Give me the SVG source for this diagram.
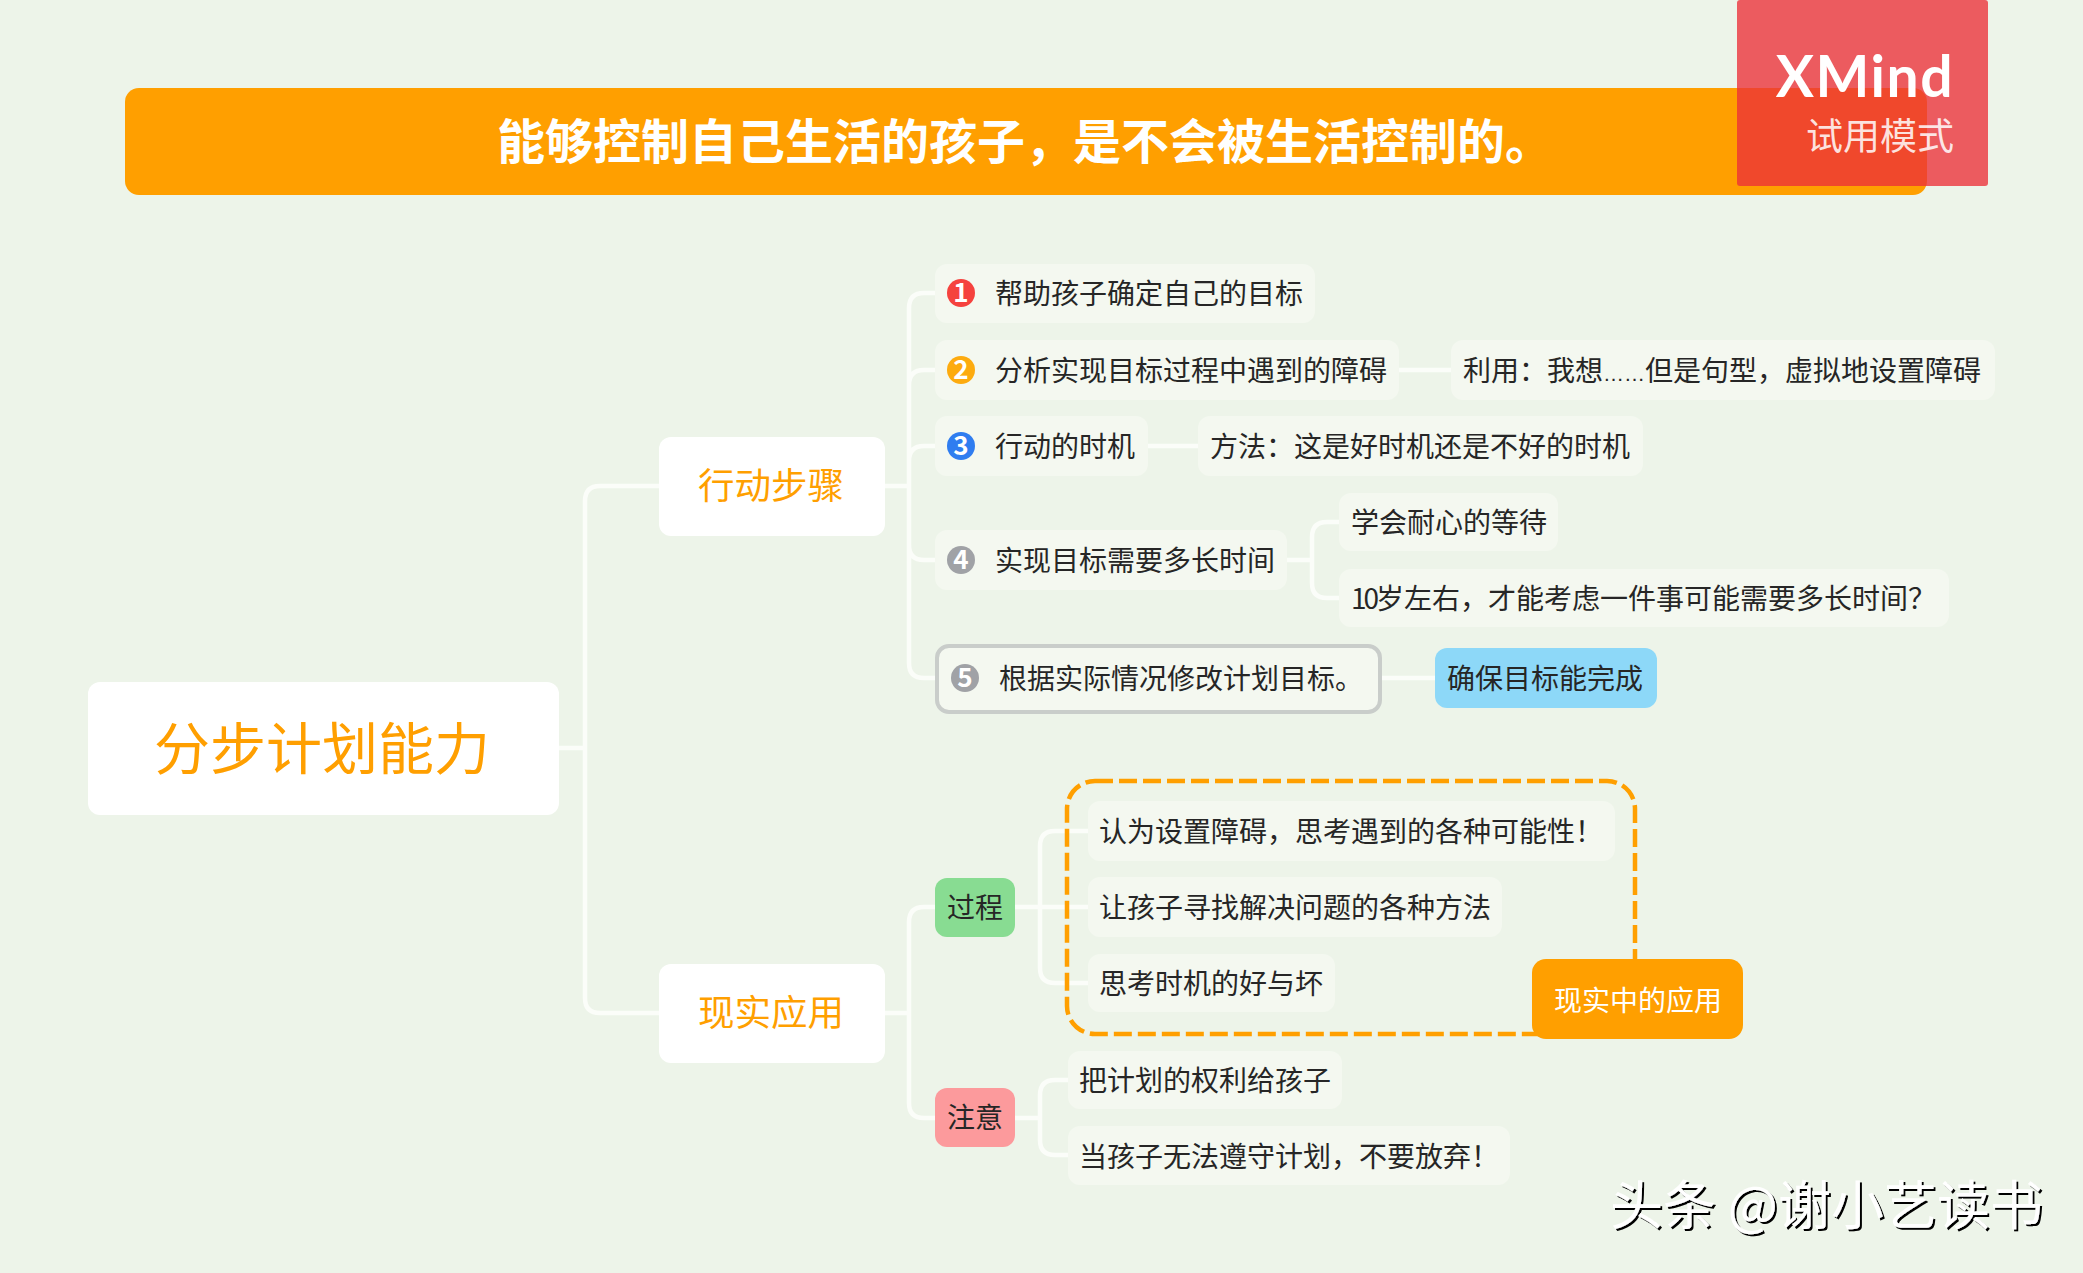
<svg xmlns="http://www.w3.org/2000/svg" width="2083" height="1273" viewBox="0 0 2083 1273">
<defs>
<filter id="emboss" x="-5%" y="-20%" width="110%" height="140%"><feDropShadow dx="2" dy="2" stdDeviation="0.6" flood-color="#000"/></filter>
</defs>
<style>
text{font-family:"Noto Sans CJK SC","Noto Sans",sans-serif;}
.t{font-size:28px;fill:#262626;transform:translateY(1px);}
.sub{fill:#f4f8f0;}
.main{fill:#fff;}
.m{font-size:36.5px;fill:#ff9f00;text-anchor:middle;}
.c{fill:none;stroke:#fbfdf9;stroke-width:4.5;stroke-linecap:round;}
.n{font-size:26px;font-weight:700;fill:#fff;text-anchor:middle;}
</style>
<rect width="2083" height="1273" fill="#edf4e9"/>
<g id="title"><rect x="125" y="88" width="1802" height="107" rx="14" fill="#ff9f00"/>
<text x="497" y="159" font-weight="700" fill="#fff" style="font-size:48px">能够控制自己生活的孩子，是不会被生活控制的。</text></g>
<g id="connectors">
<path class="c" d="M559 748H585M659 486H600Q585 486 585 501V998Q585 1013 600 1013H659"/>
<path class="c" d="M885 486H909M935 293H924Q909 293 909 308V663Q909 678 924 678H935M935 370H924Q909 370 909 385M935 446H924Q909 446 909 461M935 560H924Q909 560 909 545"/>
<path class="c" d="M1399 370H1451M1148 446H1198M1287 560H1312M1339 522H1327Q1312 522 1312 537V583Q1312 598 1327 598H1339M1380 678H1435"/>
<path class="c" d="M885 1013H909M935 907H924Q909 907 909 922V1103Q909 1118 924 1118H935"/>
<path class="c" d="M1015 907H1040M1088 831H1055Q1040 831 1040 846V968Q1040 983 1055 983H1088M1040 907H1088"/>
<path class="c" d="M1015 1118H1040M1068 1080H1055Q1040 1080 1040 1095V1140Q1040 1155 1055 1155H1068"/>
</g>
<g id="root"><rect x="88" y="682" width="471" height="133" rx="12" class="main"/><text x="322" y="769" font-size="56" fill="#ff9f00" text-anchor="middle">分步计划能力</text></g>
<g id="xingdong"><rect x="659" y="437" width="226" height="99" rx="12" class="main"/><text x="771" y="499" class="m">行动步骤</text></g>
<g id="xianshi"><rect x="659" y="964" width="226" height="99" rx="12" class="main"/><text x="771" y="1026" class="m">现实应用</text></g>
<g id="s1"><rect x="935" y="264" width="380" height="59" rx="12" class="sub"/><circle cx="961" cy="293" r="14" fill="#f5423e"/><text x="961" y="302" class="n">1</text><text x="995" y="303" class="t">帮助孩子确定自己的目标</text></g>
<g id="s2"><rect x="935" y="340" width="464" height="60" rx="12" class="sub"/><circle cx="961" cy="370" r="14" fill="#fdab0f"/><text x="961" y="379" class="n">2</text><text x="995" y="380" class="t">分析实现目标过程中遇到的障碍</text></g>
<g id="s2a"><rect x="1451" y="340" width="544" height="60" rx="12" class="sub"/><text x="1463" y="380" class="t">利用：我想<tspan font-size="21" style="font-family:'Liberation Sans',sans-serif">……</tspan>但是句型，虚拟地设置障碍</text></g>
<g id="s3"><rect x="935" y="416" width="213" height="60" rx="12" class="sub"/><circle cx="961" cy="446" r="14" fill="#2f7df0"/><text x="961" y="455" class="n">3</text><text x="995" y="456" class="t">行动的时机</text></g>
<g id="s3a"><rect x="1198" y="416" width="445" height="60" rx="12" class="sub"/><text x="1210" y="456" class="t">方法：这是好时机还是不好的时机</text></g>
<g id="s4"><rect x="935" y="530" width="352" height="60" rx="12" class="sub"/><circle cx="961" cy="560" r="14" fill="#a0a2a6"/><text x="961" y="569" class="n">4</text><text x="995" y="570" class="t">实现目标需要多长时间</text></g>
<g id="s4a"><rect x="1339" y="493" width="219" height="58" rx="12" class="sub"/><text x="1351" y="532" class="t">学会耐心的等待</text></g>
<g id="s4b"><rect x="1339" y="569" width="610" height="58" rx="12" class="sub"/><text x="1351" y="608" class="t"><tspan letter-spacing="-3">10</tspan>岁左右，才能考虑一件事可能需要多长时间？</text></g>
<g id="s5"><rect x="937" y="646" width="443" height="66" rx="12" class="sub" stroke="#c9cdca" stroke-width="4"/><circle cx="965" cy="678" r="14" fill="#a0a2a6"/><text x="965" y="687" class="n">5</text><text x="999" y="688" class="t">根据实际情况修改计划目标。</text></g>
<g id="s5a"><rect x="1435" y="648" width="222" height="60" rx="12" fill="#8dd8f8"/><text x="1447" y="688" class="t">确保目标能完成</text></g>
<g id="guocheng"><rect x="935" y="878" width="80" height="59" rx="12" fill="#88dc92"/><text x="975" y="917" class="t" text-anchor="middle">过程</text></g>
<g id="zhuyi"><rect x="935" y="1088" width="80" height="59" rx="12" fill="#fc9a9c"/><text x="975" y="1127" class="t" text-anchor="middle">注意</text></g>
<g id="g1"><rect x="1088" y="801" width="527" height="60" rx="12" class="sub"/><text x="1099" y="841" class="t">认为设置障碍，思考遇到的各种可能性！</text></g>
<g id="g2"><rect x="1088" y="877" width="414" height="60" rx="12" class="sub"/><text x="1099" y="917" class="t">让孩子寻找解决问题的各种方法</text></g>
<g id="g3"><rect x="1088" y="954" width="247" height="58" rx="12" class="sub"/><text x="1099" y="993" class="t">思考时机的好与坏</text></g>
<g id="z1"><rect x="1068" y="1051" width="274" height="58" rx="12" class="sub"/><text x="1079" y="1090" class="t">把计划的权利给孩子</text></g>
<g id="z2"><rect x="1068" y="1126" width="442" height="59" rx="12" class="sub"/><text x="1079" y="1166" class="t">当孩子无法遵守计划，不要放弃！</text></g>
<g id="boundary"><rect x="1067" y="781" width="568" height="253" rx="28" fill="none" stroke="#ff9f00" stroke-width="4.5" stroke-dasharray="18 6"/></g>
<g id="boundary-label"><rect x="1532" y="959" width="211" height="80" rx="14" fill="#ff9f00"/><text x="1638" y="1011" font-size="28" fill="#fff" text-anchor="middle">现实中的应用</text></g>
<g id="watermark"><rect x="1737" y="0" width="251" height="186" rx="3" fill="#ec2f38" fill-opacity="0.78"/>
<text x="1954" y="97" font-size="57" font-weight="700" fill="#fff" text-anchor="end" letter-spacing="1.5" style="font-family:Lato,sans-serif">XMind</text>
<text x="1954" y="150" font-size="37" fill="#fff" fill-opacity="0.85" text-anchor="end">试用模式</text></g>
<g id="credit"><text x="1610" y="1225" font-size="53" fill="#fff" filter="url(#emboss)">头条 @谢小艺读书</text></g>
</svg>
